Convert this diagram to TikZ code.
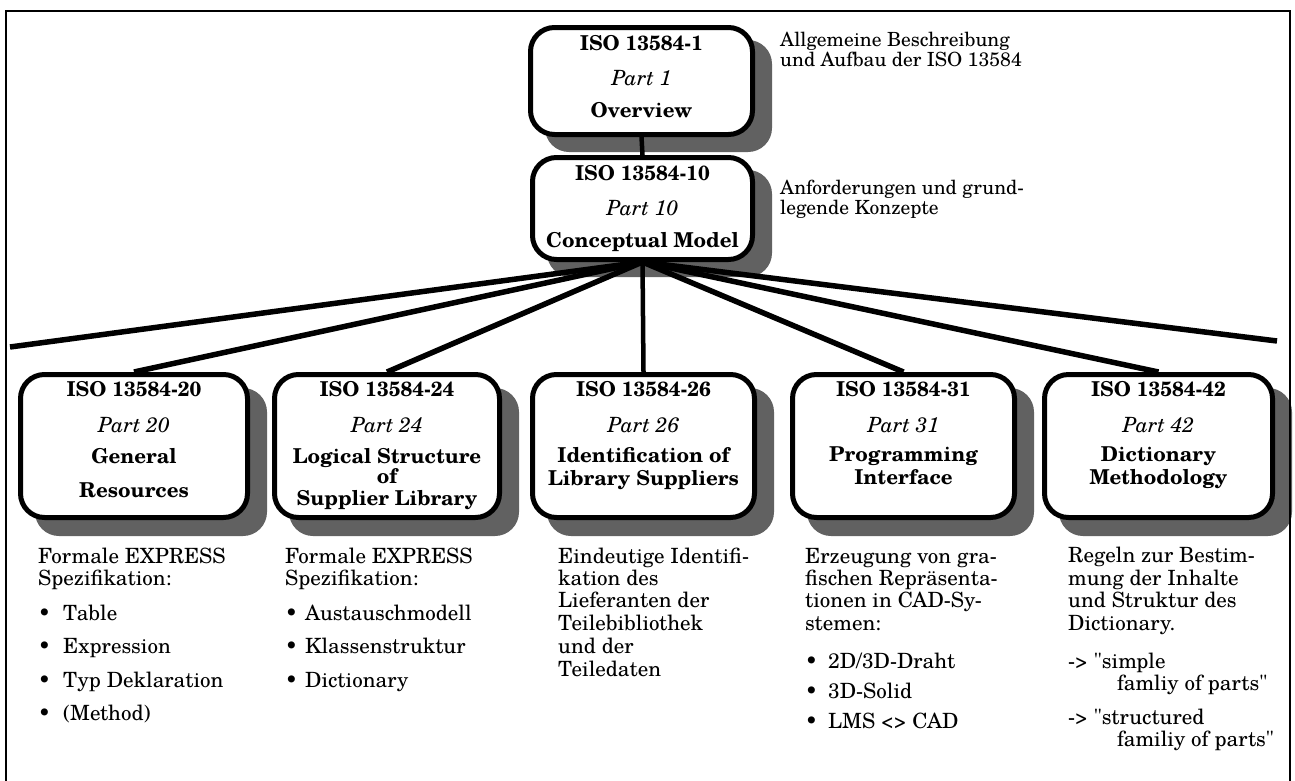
\documentclass[tikz,border=0pt]{standalone}
\usepackage{fontspec}
\setmainfont{TeX Gyre Schola}
\pgfdeclarelayer{bglayer}
\pgfdeclarelayer{shadowlayer}
\pgfdeclarelayer{linelayer}
\pgfsetlayers{bglayer,shadowlayer,linelayer,main}
\begin{document}
\begin{tikzpicture}[x=1pt,y=-1pt,
  font=\fontsize{21}{25}\selectfont,
  box/.style={draw, line width=5pt, rounded corners=24pt, fill=white, inner sep=0pt},
  conn/.style={line width=5.5pt},
  frameline/.style={line width=2.5pt},
  hd/.style={anchor=base, inner sep=0pt, font=\fontsize{20.5}{25}\selectfont\bfseries},
  pt/.style={anchor=base, inner sep=0pt, font=\fontsize{21}{25}\selectfont\itshape},
  txt/.style={anchor=base west, inner sep=0pt},
  side/.style={anchor=base west, inner sep=0pt, align=left, font=\fontsize{19.5}{17}\selectfont},
  shadowc/.style={fill=black!62, rounded corners=24pt}]
\useasboundingbox (0,0) rectangle (1295,780);
\begin{pgfonlayer}{bglayer}
\fill[white] (0,0) rectangle (1295,780);
\end{pgfonlayer}
\draw[frameline] (6,800) -- (6,11) -- (1290,11) -- (1290,800);

% boxes
\node[box, minimum width=222pt, minimum height=107pt] (b1) at (641.5,81) {};
\node[box, minimum width=220pt, minimum height=102pt] (b2) at (642.5,208.5) {};
\node[box, minimum width=227pt, minimum height=143pt] (b20) at (134,446) {};
\node[box, minimum width=225pt, minimum height=143pt] (b24) at (387,446) {};
\node[box, minimum width=222pt, minimum height=143pt] (b26) at (643.5,446) {};
\node[box, minimum width=222pt, minimum height=143pt] (b31) at (903.5,446) {};
\node[box, minimum width=228pt, minimum height=143pt] (b42) at (1158.5,446) {};

% shadows
\begin{pgfonlayer}{shadowlayer}
\foreach \n in {b1,b2}
  \fill[shadowc] ([shift={(17,15)}]\n.north west) rectangle ([shift={(17,15)}]\n.south east);
\foreach \n in {b20,b24,b26,b31,b42}
  \fill[shadowc] ([shift={(17,16)}]\n.north west) rectangle ([shift={(17,16)}]\n.south east);
\end{pgfonlayer}

% connectors
\coordinate (lend) at (10,347);
\coordinate (rend) at (1277,341);
\begin{pgfonlayer}{linelayer}
\draw[line width=4.5pt] (b1.south) -- (b2.north);
\draw[conn] (b2.south) -- (lend);
\draw[conn] (b2.south) -- (b20.north);
\draw[conn] (b2.south) -- (b24.north);
\draw[line width=4.5pt] (b2.south) -- (b26.north);
\draw[conn] (b2.south) -- (b31.north);
\draw[conn] (b2.south) -- (b42.north);
\draw[conn] (b2.south) -- (rend);
\end{pgfonlayer}

% box texts
\node[hd] (t1a) at (641.5,50) {ISO 13584-1};
\node[pt] (t1b) at (641.5,85) {Part 1};
\node[hd] (t1c) at (641.5,117) {Overview};
\node[hd] (t2a) at (642.5,180) {ISO 13584-10};
\node[pt] (t2b) at (642.5,215) {Part 10};
\node[hd] (t2c) at (642.5,247) {Conceptual Model};

\node[hd] (t20a) at (134,396) {ISO 13584-20};
\node[pt] (t20b) at (134,432) {Part 20};
\node[hd] (t20c) at (134,463) {General};
\node[hd] (t20d) at (134,497) {Resources};

\node[hd] (t24a) at (387,396) {ISO 13584-24};
\node[pt] (t24b) at (387,432) {Part 24};
\node[hd] (t24c) at (387,463) {Logical Structure};
\node[hd] (t24d) at (387,483) {of};
\node[hd] (t24e) at (387,505) {Supplier Library};

\node[hd] (t26a) at (643.5,396) {ISO 13584-26};
\node[pt] (t26b) at (643.5,432) {Part 26};
\node[hd] (t26c) at (643.5,462) {Identification of};
\node[hd] (t26d) at (643.5,485) {Library Suppliers};

\node[hd] (t31a) at (903.5,396) {ISO 13584-31};
\node[pt] (t31b) at (903.5,432) {Part 31};
\node[hd] (t31c) at (903.5,461) {Programming};
\node[hd] (t31d) at (903.5,484) {Interface};

\node[hd] (t42a) at (1158.5,396) {ISO 13584-42};
\node[pt] (t42b) at (1158.5,432) {Part 42};
\node[hd] (t42c) at (1158.5,461) {Dictionary};
\node[hd] (t42d) at (1158.5,484) {Methodology};

% side texts (anchored at baseline of last line)
\node[side] (s1) at (780,66) {Allgemeine Beschreibung\\und Aufbau der ISO 13584};
\node[side] (s2) at (780,214) {Anforderungen und grund-\\legende Konzepte};

% column 1
\node[txt] (c1a) at (38,563) {Formale EXPRESS};
\node[txt] (c1b) at (38,585) {Spezifikation:};
\node[txt] (c1c) at (38,620) {\makebox[25pt][l]{\textbullet}Table};
\node[txt] (c1d) at (38,653) {\makebox[25pt][l]{\textbullet}Expression};
\node[txt] (c1e) at (38,687) {\makebox[25pt][l]{\textbullet}Typ Deklaration};
\node[txt] (c1f) at (38,720) {\makebox[25pt][l]{\textbullet}(Method)};

% column 2
\node[txt] (c2a) at (285,563) {Formale EXPRESS};
\node[txt] (c2b) at (285,585) {Spezifikation:};
\node[txt] (c2c) at (285,620) {\makebox[20pt][l]{\textbullet}Austauschmodell};
\node[txt] (c2d) at (285,653) {\makebox[20pt][l]{\textbullet}Klassenstruktur};
\node[txt] (c2e) at (285,687) {\makebox[20pt][l]{\textbullet}Dictionary};

% column 3
\node[txt] (c3a) at (558,563) {Eindeutige Identifi-};
\node[txt] (c3b) at (558,585) {kation des};
\node[txt] (c3c) at (558,607) {Lieferanten der};
\node[txt] (c3d) at (558,630) {Teilebibliothek};
\node[txt] (c3e) at (558,653) {und der};
\node[txt] (c3f) at (558,676) {Teiledaten};

% column 4
\node[txt] (c4a) at (805,563) {Erzeugung von gra-};
\node[txt] (c4b) at (805,585) {fischen Repräsenta-};
\node[txt] (c4c) at (805,607) {tionen in CAD-Sy-};
\node[txt] (c4d) at (805,630) {stemen:};
\node[txt] (c4e) at (805,668) {\makebox[23pt][l]{\textbullet}2D/3D-Draht};
\node[txt] (c4f) at (805,698) {\makebox[23pt][l]{\textbullet}3D-Solid};
\node[txt] (c4g) at (805,728) {\makebox[23pt][l]{\textbullet}LMS <> CAD};

% column 5
\node[txt] (c5a) at (1068,562) {Regeln zur Bestim-};
\node[txt] (c5b) at (1068,585) {mung der Inhalte};
\node[txt] (c5c) at (1068,607) {und Struktur des};
\node[txt] (c5d) at (1068,630) {Dictionary.};
\node[txt] (c5e) at (1068,668) {-> \textquotedbl simple};
\node[txt] (c5f) at (1117,690) {famliy of parts\textquotedbl};
\node[txt] (c5g) at (1068,724) {-> \textquotedbl structured};
\node[txt] (c5h) at (1117,746) {familiy of parts\textquotedbl};
\end{tikzpicture}
\end{document}
